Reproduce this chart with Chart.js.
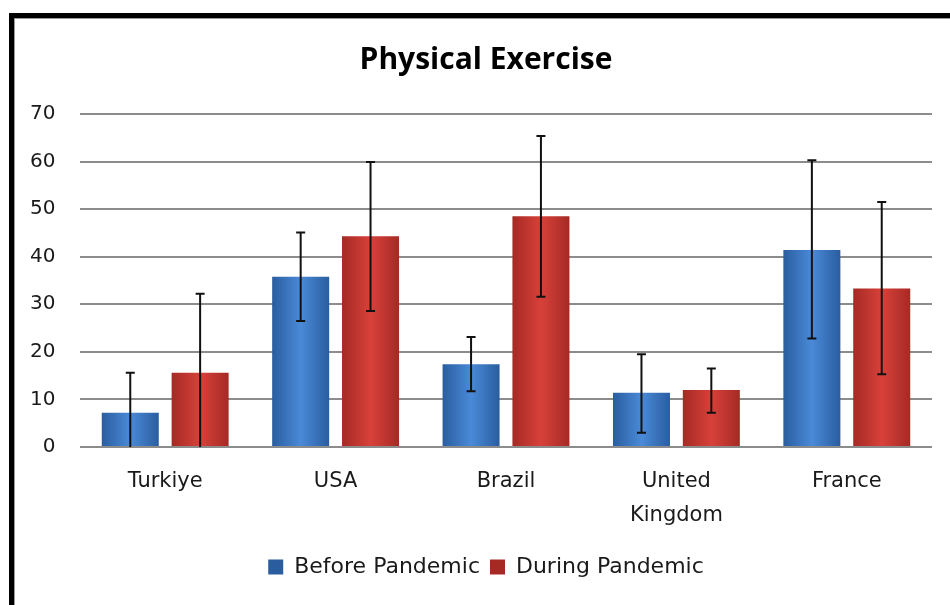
<!DOCTYPE html>
<html>
<head>
<meta charset="utf-8">
<script src="https://cdn.jsdelivr.net/npm/chart.js@4/dist/chart.umd.min.js"></script>
<style>
  body { margin: 0; background: #fff; }
  #wrap { position: absolute; left: 0; top: 0; width: 950px; height: 605px; }
  #frame {
    position: absolute; left: 9px; top: 13px; width: 960px; height: 620px;
    border-top: 5px solid #000; border-left: 5px solid #000;
    box-shadow: inset 1px 1px 0 #9a9a9a; pointer-events: none;
  }
</style>
</head>
<body>
<div id="wrap"><canvas id="exerciseChart"></canvas></div>
<div id="frame"></div>
<script>
const categories = ['Turkiye', 'USA', 'Brazil', ['United', 'Kingdom'], 'France'];
const seriesNames = ['Before Pandemic', 'During Pandemic'];
const beforeValues = [7.2, 35.8, 17.4, 11.4, 41.4];
const duringValues = [15.6, 44.3, 48.5, 12.0, 33.3];
const beforeErrLow = [0, 26.5, 11.7, 3.0, 22.8];
const beforeErrHigh = [15.6, 45.1, 23.1, 19.5, 60.3];
const duringErrLow = [0, 28.6, 31.6, 7.2, 15.3];
const duringErrHigh = [32.2, 59.9, 65.4, 16.5, 51.5];
const yMin = 0, yMax = 70, yStep = 10;

const CAT_PCT = 0.82, BAR_PCT = 0.816;
const FONT = "'DejaVu Sans', sans-serif";
const TITLE_FONT = "'Open Sans', sans-serif";

// horizontal shading like the old office bars
function barFill(base, edge) {
  return c => {
    const chart = c.chart;
    const xs = chart.scales.x;
    if (c.type !== 'data' || !xs || !chart.chartArea) return base;
    const slot = (xs.width / categories.length) * CAT_PCT / 2;
    const cx = xs.getPixelForValue(c.dataIndex) + (c.datasetIndex === 0 ? -slot / 2 : slot / 2);
    const bw = slot * BAR_PCT;
    const g = chart.ctx.createLinearGradient(cx - bw / 2, 0, cx + bw / 2, 0);
    g.addColorStop(0, edge);
    g.addColorStop(0.5, base);
    g.addColorStop(1, edge);
    return g;
  };
}

const errorBars = {
  id: 'errorBars',
  afterDatasetsDraw(chart) {
    const { ctx, scales: { y } } = chart;
    const ranges = [[beforeErrLow, beforeErrHigh], [duringErrLow, duringErrHigh]];
    ctx.save();
    ctx.strokeStyle = '#111';
    ctx.lineWidth = 2;
    ranges.forEach(([lo, hi], di) => {
      chart.getDatasetMeta(di).data.forEach((bar, i) => {
        const x = bar.x;
        const yt = y.getPixelForValue(hi[i]);
        const yb = y.getPixelForValue(lo[i]);
        ctx.beginPath();
        ctx.moveTo(x, yt);
        ctx.lineTo(x, yb);
        ctx.moveTo(x - 4.5, yt);
        ctx.lineTo(x + 4.5, yt);
        if (lo[i] > yMin) {
          ctx.moveTo(x - 4.5, yb);
          ctx.lineTo(x + 4.5, yb);
        }
        ctx.stroke();
      });
    });
    ctx.restore();
  }
};

new Chart(document.getElementById('exerciseChart'), {
  type: 'bar',
  data: {
    labels: categories,
    datasets: [
      {
        label: seriesNames[0],
        data: beforeValues,
        backgroundColor: barFill('#4a8ad8', '#2a5d9f'),
        borderWidth: 0
      },
      {
        label: seriesNames[1],
        data: duringValues,
        backgroundColor: barFill('#d8413a', '#a52a24'),
        borderWidth: 0
      }
    ]
  },
  options: {
    responsive: true,
    maintainAspectRatio: false,
    animation: false,
    categoryPercentage: CAT_PCT,
    barPercentage: BAR_PCT,
    layout: { padding: { left: 40, right: 18, top: 0, bottom: 17 } },
    plugins: {
      title: {
        display: true,
        text: 'Physical Exercise',
        color: '#000',
        font: { family: TITLE_FONT, size: 30, weight: 'bold' },
        padding: { top: 42, bottom: 36 }
      },
      legend: {
        position: 'bottom',
        labels: {
          color: '#1a1a1a',
          font: { family: FONT, size: 22 },
          boxWidth: 15,
          boxHeight: 15,
          padding: 10
        }
      },
      tooltip: { enabled: false }
    },
    scales: {
      x: {
        grid: { display: false },
        border: { display: false },
        ticks: {
          color: '#1a1a1a',
          font: { family: FONT, size: 21, lineHeight: 1.62 },
          padding: 10,
          maxRotation: 0
        },
        afterFit: s => { s.height = 99; }
      },
      y: {
        min: yMin,
        max: yMax,
        border: { display: false },
        grid: { color: '#8c8c8c', lineWidth: 2, drawTicks: false },
        ticks: {
          stepSize: yStep,
          color: '#1a1a1a',
          font: { family: FONT, size: 20 },
          // mirrored + far so the labels sit right-aligned left of the plot without clipping
          mirror: true,
          crossAlign: 'far',
          padding: -50
        },
        afterFit: s => { s.width = 40; }
      }
    }
  },
  plugins: [errorBars]
});
</script>
</body>
</html>
